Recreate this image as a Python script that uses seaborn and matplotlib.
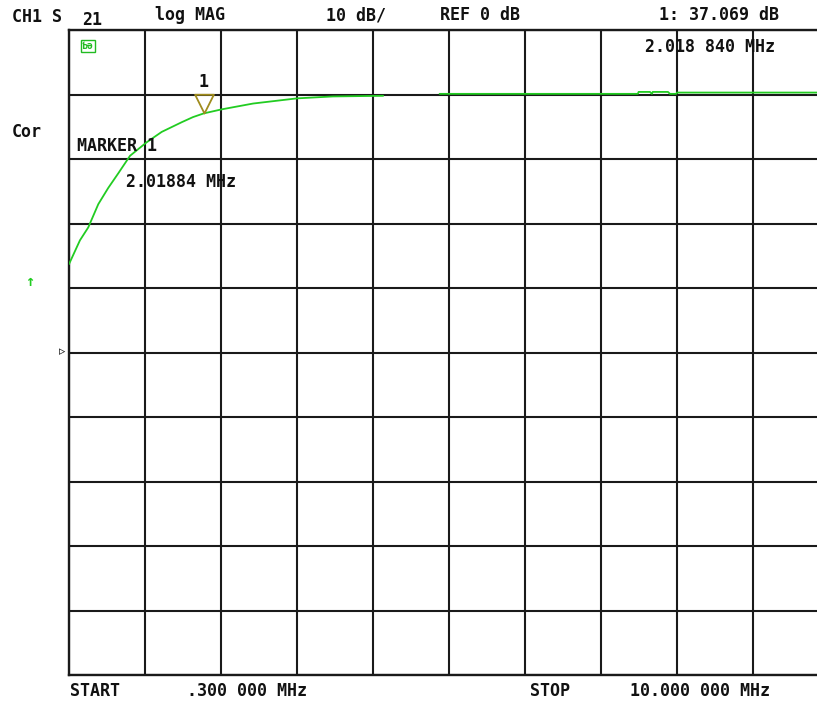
import numpy as np
import pandas as pd
import matplotlib
matplotlib.use("Agg")
import matplotlib.pyplot as plt
import seaborn as sns
from matplotlib.path import Path

sns.set_style("white")
plt.rcParams["font.family"] = ["DejaVu Sans Mono", "DejaVu Sans"]
plt.rcParams["font.weight"] = "bold"

# ---- trace data (MHz, dB) ----
freq_low = [0.30, 0.44, 0.546, 0.674, 0.80, 0.93, 1.079, 1.292, 1.483, 1.738, 1.883,
            2.02, 2.25, 2.65, 3.21, 3.67, 4.31]
db_low = [13.7, 17.4, 19.4, 23.0, 25.5, 27.8, 30.5, 32.6, 34.2, 35.7, 36.5,
          37.07, 37.7, 38.6, 39.4, 39.7, 39.8]

freq_high = [5.03, 7.56, 7.57, 7.715, 7.74, 7.75, 7.945, 7.97, 8.05, 8.06, 10.0]
db_high = [40.1, 40.1, 40.4, 40.4, 40.1, 40.4, 40.4, 40.1, 40.1, 40.3, 40.3]

start_mhz = 0.3
stop_mhz = 10.0
marker_mhz = 2.01884
marker_db = 37.069

trace = pd.concat([
    pd.DataFrame({"freq": freq_low, "db": db_low, "seg": 0}),
    pd.DataFrame({"freq": freq_high, "db": db_high, "seg": 1}),
])

W, H = 817, 704
fig = plt.figure(figsize=(W / 100, H / 100), dpi=100)

# plot area: x 69..829 px (right edge falls outside the screen), y 30..675 px
ax = fig.add_axes([69 / W, (H - 675) / H, (829 - 69) / W, (675 - 30) / H])

sns.lineplot(data=trace, x="freq", y="db", units="seg", estimator=None,
             color="#22cc22", linewidth=1.3, ax=ax, zorder=3)

div = (stop_mhz - start_mhz) / 10
ax.set_xlim(start_mhz, stop_mhz)
ax.set_ylim(-50, 50)
ax.set_xticks([start_mhz + k * div for k in range(11)])
ax.set_yticks(np.arange(-50, 51, 10))
ax.grid(True, color="#1a1a1a", linewidth=1.5)
ax.tick_params(length=0, labelbottom=False, labelleft=False)
ax.set_xlabel("")
ax.set_ylabel("")
for s in ax.spines.values():
    s.set_color("#1a1a1a")
    s.set_linewidth(1.7)

# marker 1: open triangle, tip on the trace
tri = Path([(0, 0), (-0.5, 1), (0.5, 1), (0, 0)],
           [Path.MOVETO, Path.LINETO, Path.LINETO, Path.CLOSEPOLY])
ax.plot([marker_mhz], [marker_db], marker=tri, markersize=27,
        markerfacecolor="none", markeredgecolor="#a08c1e", markeredgewidth=1.3,
        linestyle="none", zorder=4)


def px(x, y):
    return x / W, 1 - y / H


txt = dict(fontsize=12, fontweight="bold", color="#111111", va="center", ha="left")

fig.text(*px(12, 17), "CH1 S", **txt)
fig.text(*px(82, 20), "21", **txt)
fig.text(*px(155, 15), "log MAG", **txt)
fig.text(*px(326, 15), "10 dB/", **txt)
fig.text(*px(440, 15), "REF 0 dB", **txt)
fig.text(*px(659, 15), "1: 37.069 dB", **txt)
fig.text(*px(645, 47), "2.018 840 MHz", **txt)
fig.text(*px(12, 132), "Cor", **txt)
fig.text(*px(77, 146), "MARKER 1", **txt)
fig.text(*px(126, 182), "2.01884 MHz", **txt)
fig.text(*px(204, 82), "1", fontsize=12, fontweight="bold", color="#111111",
         va="center", ha="center")
fig.text(*px(70, 691), "START", **txt)
fig.text(*px(187, 691), ".300 000 MHz", **txt)
fig.text(*px(530, 691), "STOP", **txt)
fig.text(*px(630, 691), "10.000 000 MHz", **txt)

# small green status box and green arrow, reference position marker
fig.text(*px(82, 46), "Ƅə", fontsize=7, color="#22bb22", va="center", ha="left",
         bbox=dict(boxstyle="square,pad=0.15", fc="none", ec="#22bb22", lw=1))
fig.text(*px(30, 281), "↑", fontsize=11, color="#22cc22", va="center", ha="center")
fig.text(*px(62, 352), "▹", fontsize=9, color="#111111", va="center", ha="center",
         family="DejaVu Sans")

fig.savefig("out.png", dpi=100)
